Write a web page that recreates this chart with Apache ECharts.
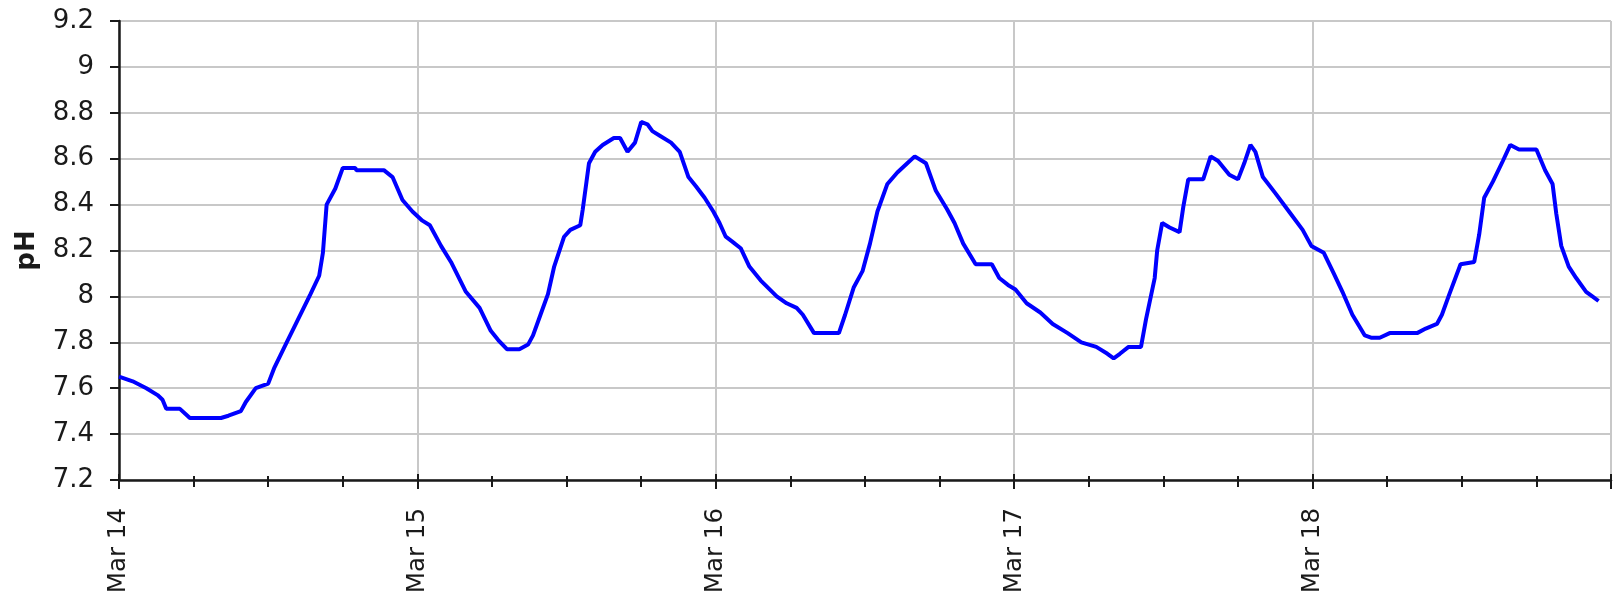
<!DOCTYPE html>
<html>
<head>
<meta charset="utf-8">
<title>pH</title>
<script src="https://cdn.jsdelivr.net/npm/echarts@6/dist/echarts.min.js"></script>
<style>
  html, body { margin: 0; padding: 0; background: #ffffff; }
  #chart { width: 1614px; height: 594px; }
</style>
</head>
<body>
<div id="chart"></div>
<script>
// Hours since Mar 14 00:00
const hours = [
  0, 1.1, 2.2, 3.1, 3.5, 3.8, 4.9, 5.7, 8.2, 8.8,
  9.8, 10.2, 11.0, 12.0, 12.5, 13.4, 14.4, 15.4, 16.1, 16.4,
  16.7, 17.4, 18.0, 19.0, 19.1, 21.3, 22.0, 22.8, 23.6, 24.4,
  25.0, 25.9, 26.7, 27.9, 29.0, 29.9, 30.5, 31.2, 32.2, 32.9,
  33.3, 33.9, 34.5, 35.0, 35.8, 36.3, 37.1, 37.3, 37.6, 37.8,
  38.3, 38.9, 39.8, 40.3, 40.9, 41.5, 42.0, 42.5, 42.9, 43.5,
  44.4, 45.1, 45.8, 46.4, 47.1, 47.8, 48.3, 48.8, 49.3, 50.0,
  50.7, 51.6, 52.9, 53.7, 54.5, 55.0, 55.9, 57.9, 58.4, 59.1,
  59.8, 60.4, 61.0, 61.8, 62.6, 63.4, 64.0, 64.9, 65.7, 66.6,
  67.2, 67.9, 68.9, 70.2, 70.8, 71.5, 72.1, 73.0, 74.1, 75.1,
  76.3, 77.4, 78.6, 79.5, 80.0, 80.5, 81.2, 82.2, 82.6, 83.3,
  83.5, 83.9, 84.5, 85.3, 85.6, 86.0, 87.2, 87.8, 88.4, 89.3,
  90.0, 90.5, 91.0, 91.4, 92.0, 93.0, 94.1, 95.2, 95.9, 96.9,
  97.7, 98.4, 99.2, 100.2, 100.7, 101.4, 102.2, 104.4, 105.1, 106.0,
  106.4, 107.0, 107.9, 109.0, 109.4, 109.8, 110.5, 111.3, 111.9, 112.6,
  114.0, 114.7, 115.3, 115.6, 116.0, 116.6, 117.2, 118.0, 118.5, 119.0
];

// Measured pH
const phValues = [
  7.65, 7.63, 7.60, 7.57, 7.55, 7.51, 7.51, 7.47, 7.47, 7.48,
  7.50, 7.54, 7.60, 7.62, 7.69, 7.79, 7.90, 8.01, 8.09, 8.19,
  8.40, 8.47, 8.56, 8.56, 8.55, 8.55, 8.52, 8.42, 8.37, 8.33,
  8.31, 8.22, 8.15, 8.02, 7.95, 7.85, 7.81, 7.77, 7.77, 7.79,
  7.83, 7.92, 8.01, 8.13, 8.26, 8.29, 8.31, 8.38, 8.50, 8.58,
  8.63, 8.66, 8.69, 8.69, 8.63, 8.67, 8.76, 8.75, 8.72, 8.70,
  8.67, 8.63, 8.52, 8.48, 8.43, 8.37, 8.32, 8.26, 8.24, 8.21,
  8.13, 8.07, 8.00, 7.97, 7.95, 7.92, 7.84, 7.84, 7.92, 8.04,
  8.11, 8.23, 8.37, 8.49, 8.54, 8.58, 8.61, 8.58, 8.46, 8.38,
  8.32, 8.23, 8.14, 8.14, 8.08, 8.05, 8.03, 7.97, 7.93, 7.88,
  7.84, 7.80, 7.78, 7.75, 7.73, 7.75, 7.78, 7.78, 7.90, 8.08,
  8.20, 8.32, 8.30, 8.28, 8.39, 8.51, 8.51, 8.61, 8.59, 8.53,
  8.51, 8.58, 8.66, 8.63, 8.52, 8.45, 8.37, 8.29, 8.22, 8.19,
  8.10, 8.02, 7.92, 7.83, 7.82, 7.82, 7.84, 7.84, 7.86, 7.88,
  7.92, 8.01, 8.14, 8.15, 8.27, 8.43, 8.50, 8.59, 8.66, 8.64,
  8.64, 8.55, 8.49, 8.36, 8.22, 8.13, 8.08, 8.02, 8.00, 7.98
];

// Day tick labels (one per 24 h)
const dayLabels = ['Mar 14', 'Mar 15', 'Mar 16', 'Mar 17', 'Mar 18'];

const points = hours.map((h, i) => [h, phValues[i]]);

const FONT = '"DejaVu Sans", Verdana, sans-serif';
const INK = '#1a1a1a';
const GRID = '#c8c8c8';

const chart = echarts.init(document.getElementById('chart'), null, { renderer: 'canvas' });

chart.setOption({
  animation: false,
  backgroundColor: '#ffffff',
  grid: {
    left: 119, right: 3, top: 21, bottom: 114,
    containLabel: false,
    outerBoundsMode: 'none'
  },
  xAxis: [
    {
      type: 'value',
      min: 0,
      max: 120,
      interval: 24,
      axisLine: { show: true, onZero: false, lineStyle: { color: INK, width: 2.5 } },
      axisTick: { show: true, inside: false, length: 9, lineStyle: { color: INK, width: 2 } },
      minorTick: { show: true, splitNumber: 4, length: 7, lineStyle: { color: INK, width: 2 } },
      splitLine: { show: true, lineStyle: { color: GRID, width: 2 } },
      axisLabel: {
        rotate: 90,
        margin: 28,
        fontFamily: FONT,
        fontSize: 24.5,
        color: INK,
        showMaxLabel: false,
        formatter: v => dayLabels[Math.round(v / 24)] || ''
      }
    },
    {
      // upper half of the crossing tick marks
      type: 'value',
      position: 'bottom',
      min: 0,
      max: 120,
      interval: 24,
      axisLine: { show: false },
      axisTick: { show: true, inside: true, length: 6, lineStyle: { color: INK, width: 2 } },
      minorTick: { show: true, splitNumber: 4, length: 4, lineStyle: { color: INK, width: 2 } },
      splitLine: { show: false },
      axisLabel: { show: false }
    }
  ],
  yAxis: {
    type: 'value',
    min: 7.2,
    max: 9.2,
    interval: 0.2,
    name: 'pH',
    nameLocation: 'middle',
    nameGap: 79,
    nameRotate: 90,
    nameTextStyle: { fontFamily: FONT, fontSize: 26, fontWeight: 'bold', color: INK },
    axisLine: { show: true, lineStyle: { color: INK, width: 2.5 } },
    axisTick: { show: true, inside: false, length: 9, lineStyle: { color: INK, width: 2 } },
    splitLine: { show: true, lineStyle: { color: GRID, width: 2 } },
    axisLabel: {
      margin: 25,
      fontFamily: FONT,
      fontSize: 26,
      color: INK,
      formatter: v => String(parseFloat(v.toFixed(1)))
    }
  },
  series: [
    {
      type: 'line',
      xAxisIndex: 0,
      data: points,
      showSymbol: false,
      smooth: false,
      lineStyle: { color: '#0000ff', width: 4 },
      itemStyle: { color: '#0000ff' },
      z: 5
    }
  ]
});
</script>
</body>
</html>
